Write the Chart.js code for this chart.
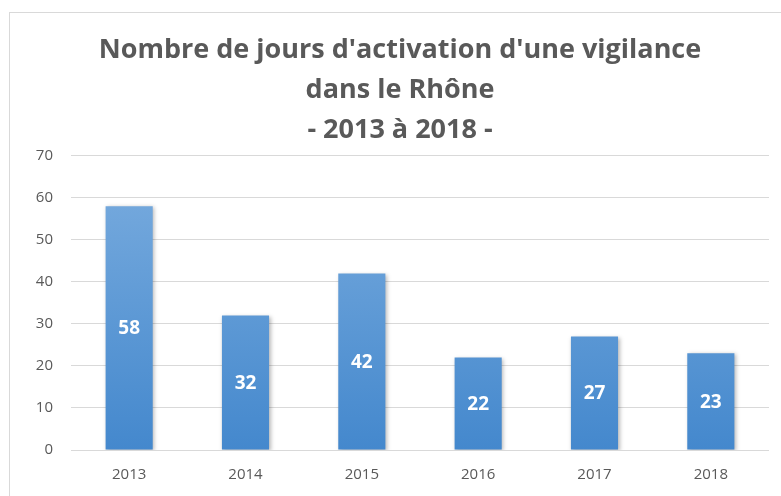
<!DOCTYPE html>
<html>
<head>
<meta charset="utf-8">
<script src="https://cdn.jsdelivr.net/npm/chart.js@4/dist/chart.umd.min.js"></script>
<style>
  body { margin: 0; background: #fff; }
  #wrap { width: 781px; height: 496px; }
</style>
</head>
<body>
<div id="wrap"><canvas id="chart" width="781" height="496"></canvas></div>
<script>
// Data
const years = ['2013', '2014', '2015', '2016', '2017', '2018'];
const jours = [58, 32, 42, 22, 27, 23];
const titleLines = ["Nombre de jours d'activation d'une vigilance", 'dans le Rhône', '- 2013 à 2018 -'];

const grey = '#595959';
const font = "'Open Sans', 'Liberation Sans', sans-serif";

// Light frame around the chart, like the spreadsheet chart area
const framePlugin = {
    id: 'frame',
    beforeDraw(chart) {
        const c = chart.ctx;
        c.save();
        c.strokeStyle = '#d9d9d9';
        c.lineWidth = 1;
        c.strokeRect(9.5, 12.5, chart.width + 20, chart.height + 20);
        c.restore();
    }
};

// Soft shadow under the bars
const shadowPlugin = {
    id: 'barShadow',
    beforeDatasetsDraw(chart) {
        const c = chart.ctx;
        c.save();
        c.shadowColor = 'rgba(0,0,0,0.28)';
        c.shadowBlur = 4;
        c.shadowOffsetX = 1.5;
        c.shadowOffsetY = 1;
    },
    afterDatasetsDraw(chart) {
        chart.ctx.restore();
    }
};

// White values in the middle of each bar
const valuePlugin = {
    id: 'values',
    afterDatasetsDraw(chart) {
        const c = chart.ctx;
        const meta = chart.getDatasetMeta(0);
        c.save();
        c.fillStyle = '#ffffff';
        c.font = 'bold 19px ' + font;
        c.textAlign = 'center';
        c.textBaseline = 'middle';
        meta.data.forEach((bar, i) => {
            const mid = (bar.y + bar.base) / 2;
            c.fillText(jours[i], bar.x, mid + 1);
        });
        c.restore();
    }
};

const ctx = document.getElementById('chart').getContext('2d');
const chart = new Chart(ctx, {
    type: 'bar',
    data: {
        labels: years,
        datasets: [{
            data: jours,
            backgroundColor: (context) => {
                const area = context.chart.chartArea;
                if (!area) return '#5b9bd5';
                const g = context.chart.ctx.createLinearGradient(0, area.top + 50, 0, area.bottom);
                g.addColorStop(0, '#72a7dc');
                g.addColorStop(1, '#4488cd');
                return g;
            },
            borderWidth: 0,
            categoryPercentage: 1,
            barPercentage: 0.405
        }]
    },
    options: {
        responsive: false,
        animation: false,
        layout: { padding: { left: 31, right: 12, top: 30, bottom: 4 } },
        plugins: {
            legend: { display: false },
            tooltip: { enabled: false },
            title: {
                display: true,
                text: titleLines,
                color: grey,
                font: { family: font, size: 27, weight: 'bold', lineHeight: 1.48 },
                padding: { top: 0, bottom: 6 }
            }
        },
        scales: {
            x: {
                grid: { display: false },
                border: { display: false },
                ticks: { color: grey, font: { family: font, size: 15 }, padding: 8 }
            },
            y: {
                min: 0,
                max: 70,
                ticks: { stepSize: 10, color: grey, font: { family: font, size: 15 }, padding: 18 },
                grid: { color: '#d9d9d9', lineWidth: 1, drawTicks: false },
                border: { display: false },
                afterFit(scale) { scale.width = 40; }
            }
        }
    },
    plugins: [framePlugin, shadowPlugin, valuePlugin]
});
</script>
</body>
</html>
